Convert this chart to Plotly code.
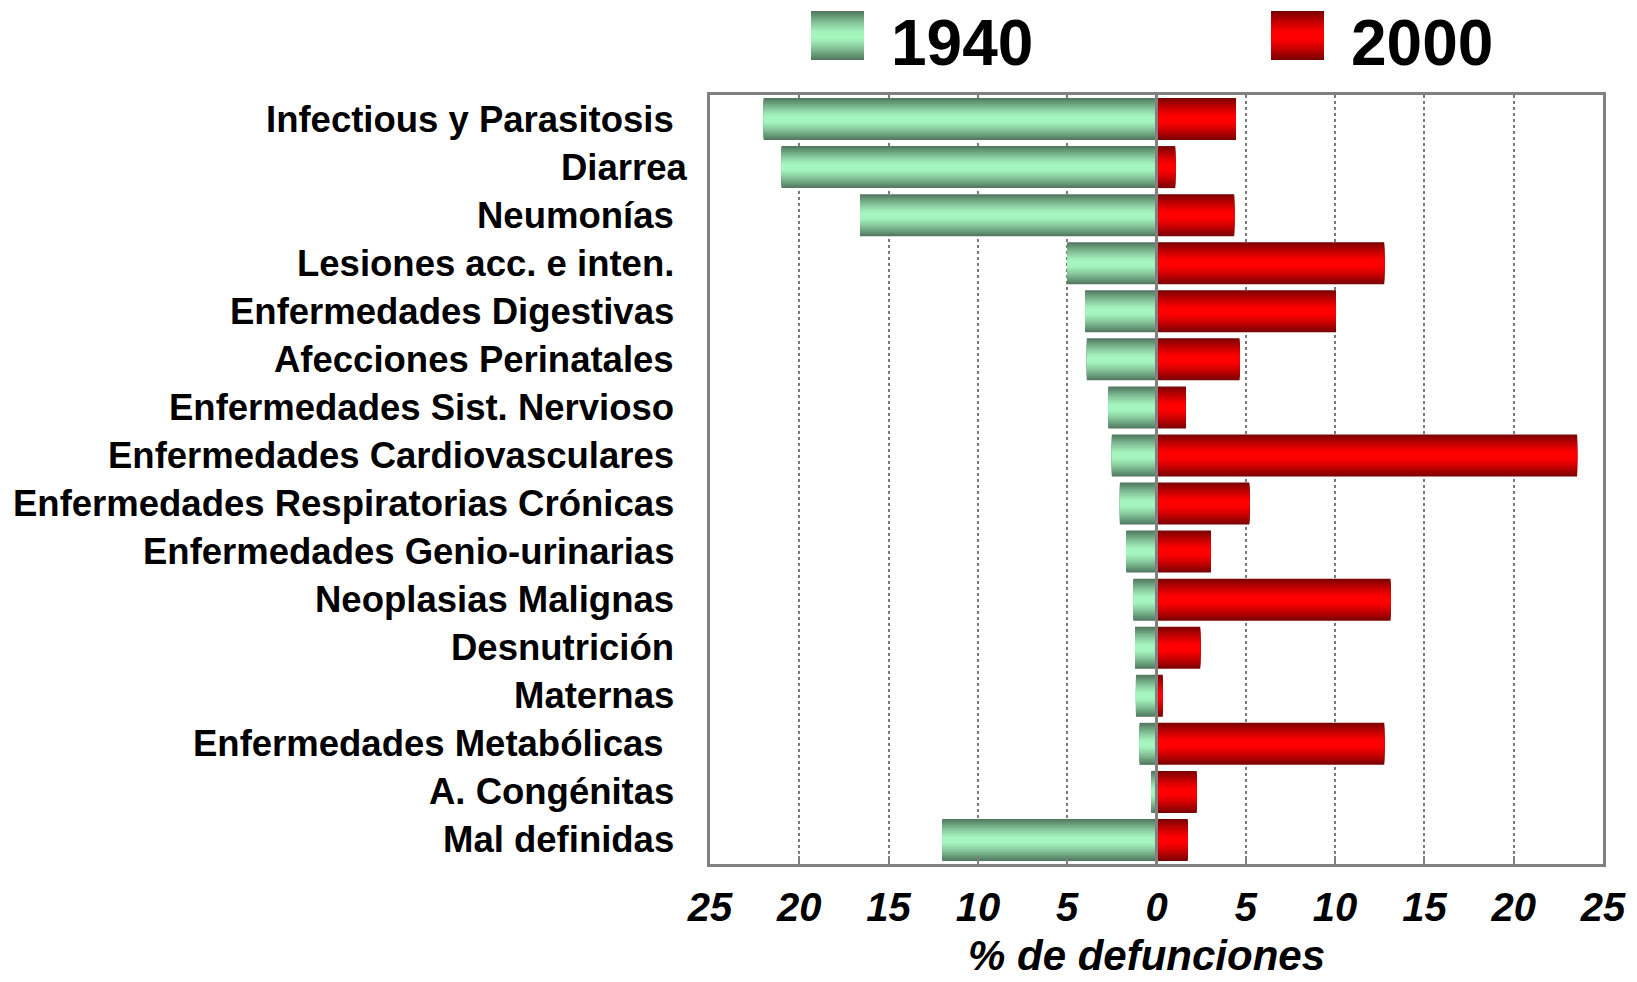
import plotly.graph_objects as go

# causas de muerte, % de defunciones
causes = ["Infectious y Parasitosis", "Diarrea", "Neumonías", "Lesiones acc. e inten.",
          "Enfermedades Digestivas", "Afecciones Perinatales", "Enfermedades Sist. Nervioso",
          "Enfermedades Cardiovasculares", "Enfermedades Respiratorias Crónicas",
          "Enfermedades Genio-urinarias", "Neoplasias Malignas", "Desnutrición", "Maternas",
          "Enfermedades Metabólicas\u00a0", "A. Congénitas", "Mal definidas"]
pct_1940 = [22.0, 21.0, 16.6, 5.0, 4.0, 3.9, 2.7, 2.5, 2.05, 1.7, 1.3, 1.2, 1.15, 0.95, 0.3, 12.0]
pct_2000 = [4.45, 1.05, 4.35, 12.75, 10.05, 4.65, 1.65, 23.55, 5.2, 3.05, 13.1, 2.45, 0.35, 12.75, 2.25, 1.75]
years = ["1940", "2000"]
x_ticks = [-25, -20, -15, -10, -5, 0, 5, 10, 15, 20, 25]
x_ticktext = [str(abs(v)) for v in x_ticks]
x_title = "% de defunciones"

OFF = 8                      # margen del body de la página
W, H = 1637 - 2 * OFF, 982 - OFF
L, T = 710 - OFF, 95 - OFF
R, B = W - (1603 - OFF), H - (864 - OFF)
FONT = "Liberation Sans, Arial, sans-serif"
GRAY = "#808080"

GREEN_EDGE, GREEN_MID = (78, 116, 92), (165, 245, 190)
RED_EDGE, RED_MID = (118, 0, 0), (255, 0, 0)
N = 14          # bandas del degradado
BAR_W = 0.875


def px_x(px):
    # px en coordenadas de la ventana
    return (px - OFF - L) / (W - L - R)


def px_y(py):
    return 1 - (py - OFF - T) / (H - T - B)


def shade(edge, mid, t):
    # t: 0 centro, 1 borde
    f = min(1.0, max(0.0, (t - 0.12) / 0.88)) ** 1.2
    c = [round(m + (e - m) * f) for e, m in zip(edge, mid)]
    return "rgb(%d,%d,%d)" % tuple(c)


fig = go.Figure()

for vals, sign, edge, mid in [(pct_1940, -1, GREEN_EDGE, GREEN_MID),
                              (pct_2000, 1, RED_EDGE, RED_MID)]:
    for k in range(N):
        t = 1 - (k + 0.5) / N
        fig.add_trace(go.Bar(
            y=causes, x=[sign * v for v in vals], orientation="h",
            width=BAR_W * (1 - k / N),
            marker=dict(color=shade(edge, mid, t), line=dict(width=0)),
            showlegend=False, hoverinfo="skip"))

shapes = [dict(type="line", xref="x", yref="paper", x0=0, x1=0, y0=0, y1=1,
               line=dict(color=GRAY, width=3), layer="above")]

# leyenda propia: cuadros con degradado + texto grande
annotations = []
for (x0, x1), edge, mid, label, tx in [((811, 864), GREEN_EDGE, GREEN_MID, years[0], 889),
                                       ((1271, 1324), RED_EDGE, RED_MID, years[1], 1349)]:
    y0, y1 = 11, 60
    cy, hh = (y0 + y1) / 2, (y1 - y0) / 2
    for k in range(N):
        h = hh * (1 - k / N)
        t = 1 - (k + 0.5) / N
        shapes.append(dict(type="rect", xref="paper", yref="paper",
                           x0=px_x(x0), x1=px_x(x1), y0=px_y(cy - h), y1=px_y(cy + h),
                           fillcolor=shade(edge, mid, t), line=dict(width=0), layer="above"))
    annotations.append(dict(text=label, xref="paper", yref="paper", x=px_x(tx), y=px_y(43),
                            xanchor="left", yanchor="middle", showarrow=False,
                            font=dict(family=FONT, size=64, weight="bold", color="black")))

nudge = {"Diarrea": 14}
for c in causes:
    annotations.append(dict(text=c, xref="paper", yref="y", x=0, y=c,
                            xanchor="right", yanchor="middle", xshift=-34 + nudge.get(c, 0),
                            showarrow=False,
                            font=dict(family=FONT, size=36.5, weight="bold", color="black")))

# título del eje x
annotations.append(dict(text=x_title, xref="paper", yref="paper", x=px_x(1146), y=px_y(955),
                        xanchor="center", yanchor="middle", showarrow=False,
                        font=dict(family=FONT, size=42, weight="bold", style="italic",
                                  color="black")))

fig.update_layout(
    width=W, height=H,
    margin=dict(l=L, r=R, t=T, b=B),
    barmode="overlay",
    plot_bgcolor="white", paper_bgcolor="white",
    shapes=shapes, annotations=annotations,
    xaxis=dict(range=[-25, 25], tickvals=x_ticks, ticktext=x_ticktext, automargin=False,
               showgrid=True, gridcolor="#7a7a7a", gridwidth=2, griddash="dot",
               zeroline=False, showline=True, mirror=True, linecolor=GRAY, linewidth=3,
               ticks="inside", ticklen=8, tickwidth=2, tickcolor=GRAY,
               ticklabelstandoff=6,
               tickfont=dict(family=FONT, size=40, weight="bold", style="italic", color="black")),
    yaxis=dict(type="category", categoryorder="array", categoryarray=causes, automargin=False,
               range=[15.5, -0.5], showticklabels=False, showgrid=False, zeroline=False,
               showline=True, mirror=True, linecolor=GRAY, linewidth=3, ticks=""),
)

fig.write_html("out.html")
